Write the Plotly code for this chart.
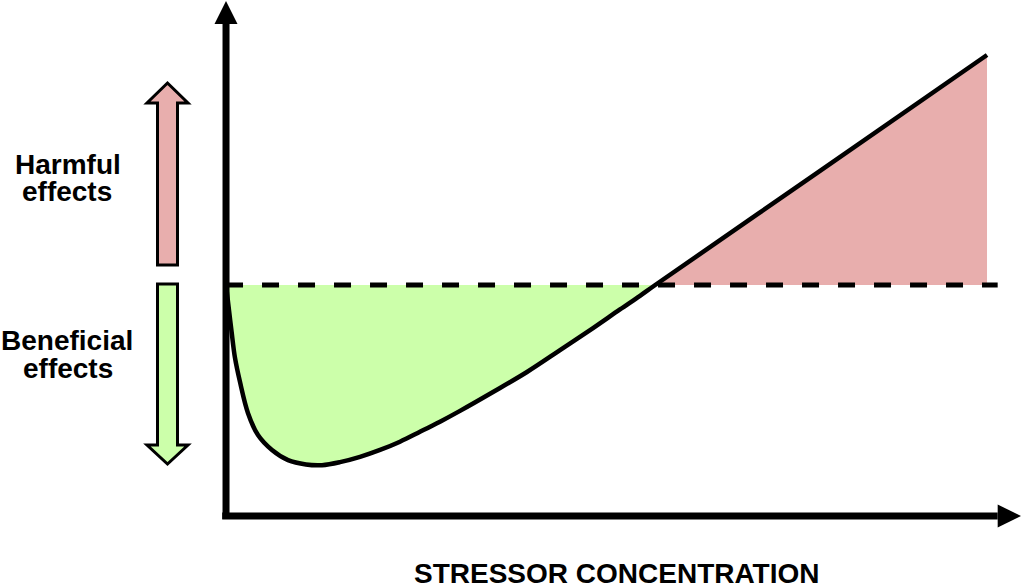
import plotly.graph_objects as go

# hormesis curve: stressor concentration (0-100) vs response
# (negative = beneficial, positive = harmful)
conc = [0, 0.39, 0.72, 1.18, 1.84, 2.89, 4.20, 6.04, 8.15, 10.51, 12.61, 14.98,
        17.61, 20.24, 22.86, 25.49, 28.12, 30.75, 35.09, 39.55, 43.89, 48.23,
        51.77, 54.40, 56.4, 78.06, 100]
resp = [0, -10.9, -20.0, -31.7, -42.2, -55.7, -65.2, -71.7, -76.1, -78.0, -78.3, -77.0,
        -74.7, -71.7, -68.1, -63.8, -59.4, -54.7, -46.5, -37.8, -28.3, -18.7,
        -10.6, -4.7, 0, 49.6, 100]
cross = conc.index(56.4)

baseline_x = [0, 101.4]
baseline_y = [0, 0]

labels_left = ["Harmful", "effects", "Beneficial", "effects"]
x_label = "STRESSOR CONCENTRATION"

RED = "#E8AEAD"
GREEN = "#CCFFAA"
FONT = "Liberation Sans, Arial, sans-serif"

fig = go.Figure()
fig.add_trace(go.Scatter(x=conc[:cross + 1], y=resp[:cross + 1], mode="lines",
                         line=dict(width=0, shape="spline"), fill="tozeroy",
                         fillcolor=GREEN, hoverinfo="skip"))
fig.add_trace(go.Scatter(x=conc[cross:], y=resp[cross:], mode="lines",
                         line=dict(width=0), fill="tozeroy",
                         fillcolor=RED, hoverinfo="skip"))
fig.add_trace(go.Scatter(x=baseline_x, y=baseline_y, mode="lines",
                         line=dict(color="black", width=5, dash="17px,19px")))
fig.add_trace(go.Scatter(x=conc, y=resp, mode="lines",
                         line=dict(color="black", width=4.5, shape="spline")))

# axes with arrow heads (data coords)
fig.add_shape(type="line", x0=0, x1=0, y0=-101.7, y1=113.5,
              line=dict(color="black", width=7))
fig.add_shape(type="path", path="M -1.51,113.5 L 0,123.5 L 1.51,113.5 Z",
              fillcolor="black", line=dict(width=0))
fig.add_shape(type="line", x0=-0.5, x1=101.4, y0=-100.4, y1=-100.4,
              line=dict(color="black", width=7))
fig.add_shape(type="path", path="M 101.4,-95.4 L 104.47,-100.4 L 101.4,-105.4 Z",
              fillcolor="black", line=dict(width=0))


def P(x, y):
    # pixel -> paper
    return x / 1024, 1 - y / 588


def arrow_path(pts):
    s = []
    for i, (x, y) in enumerate(pts):
        px, py = P(x, y)
        s.append(("M" if i == 0 else "L") + f" {px:.5f},{py:.5f}")
    return " ".join(s) + " Z"


up = [(157.5, 265), (157.5, 103), (147, 103), (167.5, 83), (188, 103), (177.5, 103), (177.5, 265)]
down = [(157.5, 284), (177.5, 284), (177.5, 445), (188, 445), (167.5, 464), (147, 445), (157.5, 445)]
fig.add_shape(type="path", xref="paper", yref="paper", path=arrow_path(up),
              fillcolor=RED, line=dict(color="black", width=3))
fig.add_shape(type="path", xref="paper", yref="paper", path=arrow_path(down),
              fillcolor=GREEN, line=dict(color="black", width=3))

for txt, (cx, cy) in zip(labels_left, [(68, 164), (67, 192), (67, 340), (68, 368)]):
    px, py = P(cx, cy)
    fig.add_annotation(x=px, y=py, xref="paper", yref="paper", text=f"<b>{txt}</b>",
                       showarrow=False, font=dict(family=FONT, size=28, color="black"),
                       xanchor="center", yanchor="middle")
px, py = P(617, 573)
fig.add_annotation(x=px, y=py, xref="paper", yref="paper", text=f"<b>{x_label}</b>",
                   showarrow=False, font=dict(family=FONT, size=28, color="black"),
                   xanchor="center", yanchor="middle")

fig.update_layout(
    width=1024, height=588,
    margin=dict(l=0, r=0, t=0, b=0),
    paper_bgcolor="white", plot_bgcolor="white",
    showlegend=False,
    xaxis=dict(visible=False, range=[-29.7, 104.86]),
    yaxis=dict(visible=False, range=[-131.7, 123.9]),
)

# drop the default 8px page margin so the figure fills the window
fig.write_html("out.html", config={"displayModeBar": False},
               post_script="document.body.style.margin='0';document.body.style.overflow='hidden';")
